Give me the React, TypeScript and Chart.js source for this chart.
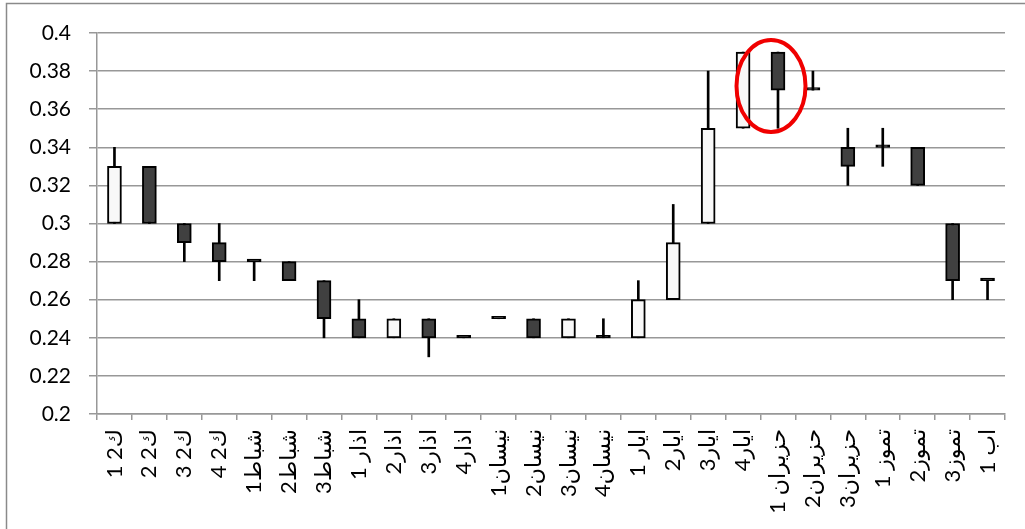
import React, { useEffect, useRef } from "react";
import { Chart, registerables } from "chart.js";

Chart.register(...registerables);

// Categories (week labels)
const labels: string[] = [
  "ك2 1", "ك2 2", "ك2 3", "ك2 4",
  "شباط1", "شباط2", "شباط3",
  "اذار 1", "اذار2", "اذار3", "اذار4",
  "نيسان1", "نيسان2", "نيسان3", "نيسان4",
  "ايار 1", "ايار2", "ايار3", "ايار4",
  "حزيران 1", "حزيران2", "حزيران3",
  "تموز 1", "تموز2", "تموز3",
  "اب 1",
];

// OHLC series
const openV: number[] = [0.30, 0.33, 0.30, 0.29, 0.28, 0.28, 0.27, 0.25, 0.24, 0.25, 0.24, 0.25, 0.25, 0.24, 0.24, 0.24, 0.26, 0.30, 0.35, 0.39, 0.37, 0.34, 0.34, 0.34, 0.30, 0.27];
const closeV: number[] = [0.33, 0.30, 0.29, 0.28, 0.28, 0.27, 0.25, 0.24, 0.25, 0.24, 0.24, 0.25, 0.24, 0.25, 0.24, 0.26, 0.29, 0.35, 0.39, 0.37, 0.37, 0.33, 0.34, 0.32, 0.27, 0.27];
const highV: number[] = [0.34, 0.33, 0.30, 0.30, 0.28, 0.28, 0.27, 0.26, 0.25, 0.25, 0.24, 0.25, 0.25, 0.25, 0.25, 0.27, 0.31, 0.38, 0.39, 0.39, 0.38, 0.35, 0.35, 0.34, 0.30, 0.27];
const lowV: number[] = [0.30, 0.30, 0.28, 0.27, 0.27, 0.27, 0.24, 0.24, 0.24, 0.23, 0.24, 0.25, 0.24, 0.24, 0.24, 0.24, 0.26, 0.30, 0.35, 0.35, 0.37, 0.32, 0.33, 0.32, 0.26, 0.26];

// Y axis ticks
const yTicks: number[] = [0.2, 0.22, 0.24, 0.26, 0.28, 0.3, 0.32, 0.34, 0.36, 0.38, 0.4];

// Highlighted candle (red ellipse)
const highlightIndex = 19;
const highlightValue = 0.3722;

const GRID = "#989898";
const FONT = "Lato, 'DejaVu Sans', sans-serif";

export default function App() {
  const ref = useRef<HTMLCanvasElement | null>(null);

  useEffect(() => {
    const canvas = ref.current;
    if (!canvas) return;

    const wicks = labels.map((_, i) => [lowV[i], highV[i]]);
    const bodies = labels.map((_, i) => [Math.min(openV[i], closeV[i]), Math.max(openV[i], closeV[i])]);
    const bodyColors = labels.map((_, i) =>
      closeV[i] > openV[i] ? "#f8f8f8" : closeV[i] < openV[i] ? "#404040" : "#000000"
    );

    const framePlugin = {
      id: "frame",
      beforeDraw(chart: any) {
        const { ctx, width, height } = chart;
        ctx.save();
        ctx.fillStyle = "#ffffff";
        ctx.fillRect(0, 0, width, height);
        ctx.strokeStyle = "#8a8a8a";
        ctx.lineWidth = 1.5;
        ctx.strokeRect(6.5, 3.5, width + 20, height + 20);
        ctx.restore();
      },
    };

    const ellipsePlugin = {
      id: "ellipse",
      afterDatasetsDraw(chart: any) {
        const { ctx } = chart;
        const x = chart.scales.x;
        const y = chart.scales.y;
        const cx = x.getPixelForValue(highlightIndex) - 7;
        const cy = y.getPixelForValue(highlightValue);
        ctx.save();
        ctx.strokeStyle = "#f00000";
        ctx.lineWidth = 4;
        ctx.beginPath();
        ctx.ellipse(cx, cy, 34.5, 46, 0, 0, Math.PI * 2);
        ctx.stroke();
        ctx.restore();
      },
    };

    const chart = new Chart(canvas, {
      type: "bar",
      data: {
        labels,
        datasets: [
          {
            label: "wick",
            data: wicks as any,
            backgroundColor: "#000000",
            borderWidth: 0,
            barThickness: 2,
            grouped: false,
            order: 2,
          } as any,
          {
            label: "body",
            data: bodies as any,
            backgroundColor: bodyColors,
            borderColor: "#000000",
            borderWidth: 2,
            borderSkipped: false,
            barThickness: 14,
            minBarLength: 2.5,
            grouped: false,
            order: 1,
          } as any,
        ],
      },
      options: {
        responsive: false,
        animation: false,
        devicePixelRatio: 1,
        layout: { padding: { top: 33, right: 20, bottom: 0, left: 0 } },
        plugins: {
          legend: { display: false },
          tooltip: { enabled: false },
        },
        scales: {
          x: {
            offset: true,
            grid: {
              offset: true,
              drawOnChartArea: false,
              drawTicks: true,
              tickLength: 6,
              color: GRID,
              lineWidth: 1.5,
            },
            border: { color: GRID, width: 1.5 },
            ticks: {
              autoSkip: false,
              maxRotation: 90,
              minRotation: 90,
              padding: 9,
              color: "#000000",
              font: { family: FONT, size: 22 },
            },
            afterFit(scale: any) {
              scale.height = 115;
            },
          },
          y: {
            min: 0.2,
            max: 0.4,
            afterBuildTicks(scale: any) {
              scale.ticks = yTicks.map((v) => ({ value: v }));
            },
            grid: {
              color: GRID,
              lineWidth: 1.5,
              drawTicks: true,
              tickLength: 8,
            },
            border: { color: GRID, width: 1.5 },
            ticks: {
              padding: 18,
              color: "#000000",
              font: { family: FONT, size: 21 },
              callback: (v: any) => String(Number(Number(v).toFixed(2))),
            },
            afterFit(scale: any) {
              scale.width = 97;
            },
          },
        },
      },
      plugins: [framePlugin, ellipsePlugin],
    });

    return () => chart.destroy();
  }, []);

  return (
    <div style={{ position: "absolute", left: 0, top: 0, width: 1025, height: 529, overflow: "hidden", background: "#fff" }}>
      <canvas ref={ref} width={1025} height={529} style={{ display: "block", width: 1025, height: 529 }} />
    </div>
  );
}
